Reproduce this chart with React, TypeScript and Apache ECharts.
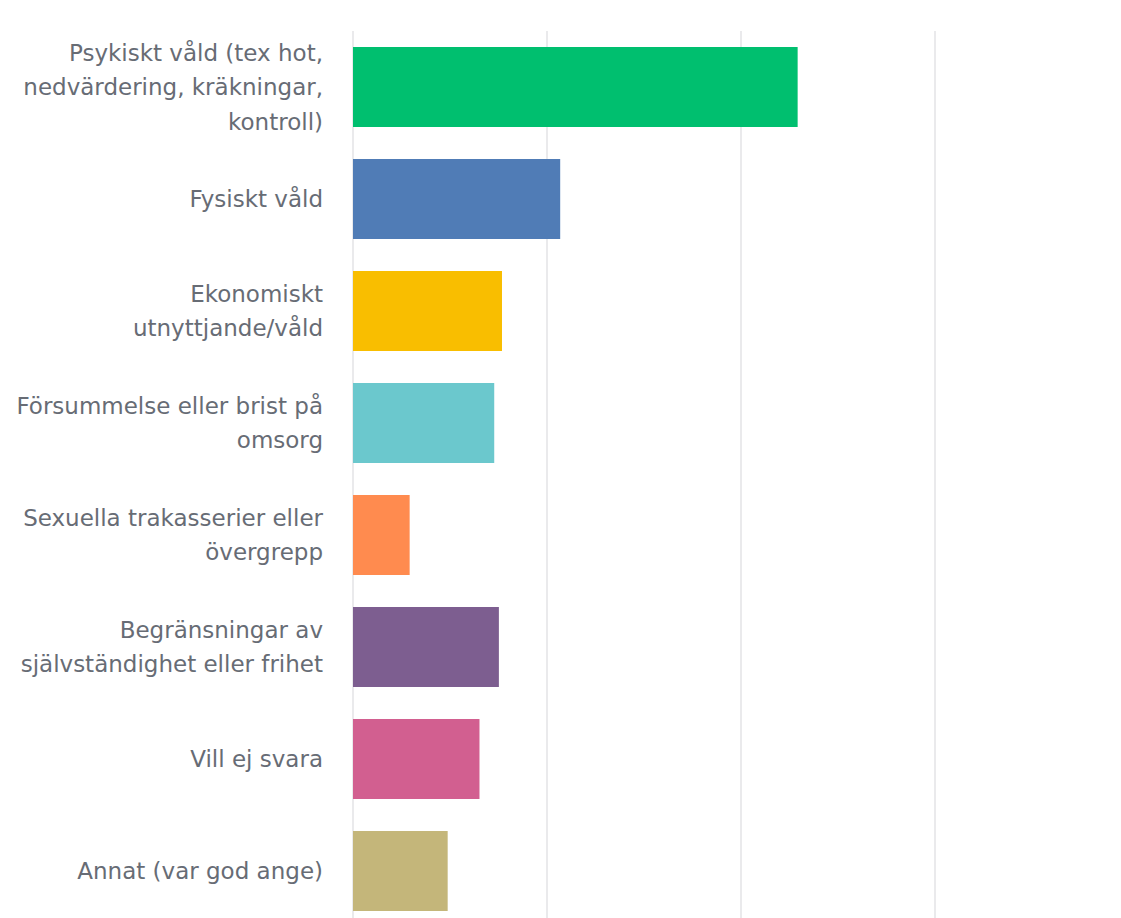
import React, { useEffect, useRef } from "react";
import * as echarts from "echarts";

const categories = [
  "Psykiskt våld (tex hot,\nnedvärdering, kräkningar,\nkontroll)",
  "Fysiskt våld",
  "Ekonomiskt\nutnyttjande/våld",
  "Försummelse eller brist på\nomsorg",
  "Sexuella trakasserier eller\növergrepp",
  "Begränsningar av\nsjälvständighet eller frihet",
  "Vill ej svara",
  "Annat (var god ange)",
];

const values = [57.3, 26.7, 19.2, 18.2, 7.3, 18.8, 16.3, 12.2];

const colors = [
  "#00bf6f",
  "#507cb6",
  "#f9be00",
  "#6bc8cd",
  "#ff8b4f",
  "#7d5e90",
  "#d25f90",
  "#c4b67a",
];

export default function App() {
  const ref = useRef<HTMLDivElement>(null);
  useEffect(() => {
    if (!ref.current) return;
    const chart = echarts.init(ref.current, null, { renderer: "svg" });
    chart.setOption({
      animation: false,
      backgroundColor: "#ffffff",
      grid: { left: 353, top: 31, width: 776, height: 896 },
      xAxis: {
        type: "value",
        min: 0,
        max: 100,
        interval: 25,
        axisLabel: { show: false },
        axisLine: { show: false },
        axisTick: { show: false },
        splitLine: { show: true, lineStyle: { color: "#e3e3e6", width: 1.5 } },
      },
      yAxis: {
        type: "category",
        inverse: true,
        data: categories,
        axisLine: { show: false },
        axisTick: { show: false },
        axisLabel: {
          margin: 30,
          color: "#676c75",
          fontFamily: "DejaVu Sans",
          fontSize: 23,
          lineHeight: 34.5,
          align: "right",
        },
      },
      series: [
        {
          type: "bar",
          barWidth: 80,
          data: values.map((v, i) => ({ value: v, itemStyle: { color: colors[i] } })),
        },
      ],
    });
    return () => chart.dispose();
  }, []);
  return (
    <div
      ref={ref}
      style={{ position: "fixed", left: 0, top: 0, width: 1150, height: 940 }}
    />
  );
}
